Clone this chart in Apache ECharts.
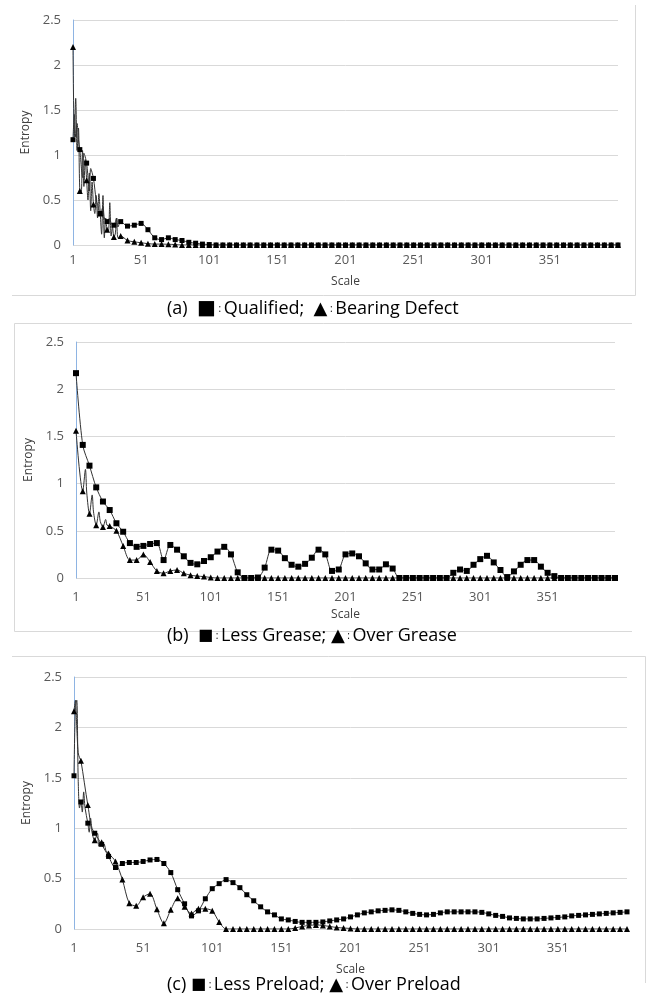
<!DOCTYPE html>
<html>
<head>
<meta charset="utf-8">
<script src="https://cdn.jsdelivr.net/npm/echarts@6/dist/echarts.min.js"></script>
<style>
  html, body { margin: 0; padding: 0; background: #fff; }
  #chart { width: 646px; height: 1008px; }
</style>
</head>
<body>
<div id="chart"></div>
<script>
"use strict";

// scales that carry a marker (every 5th scale)
var markScales = [];
for (var s = 1; s <= 401; s += 5) { markScales.push(s); }

var xTicks = [1, 51, 101, 151, 201, 251, 301, 351];

// (a) Qualified (squares) / Bearing Defect (triangles)
var qualified = [1.17, 1.06, 0.91, 0.74, 0.35, 0.26, 0.22, 0.26, 0.21, 0.22,
  0.24, 0.17, 0.08, 0.06, 0.08, 0.06, 0.05, 0.03, 0.02, 0.01,
  0.005, 0, 0, 0, 0, 0, 0, 0, 0, 0,
  0, 0, 0, 0, 0, 0, 0, 0, 0, 0,
  0, 0, 0, 0, 0, 0, 0, 0, 0, 0,
  0, 0, 0, 0, 0, 0, 0, 0, 0, 0,
  0, 0, 0, 0, 0, 0, 0, 0, 0, 0,
  0, 0, 0, 0, 0, 0, 0, 0, 0, 0, 0];
var qualifiedExtra = [[2, 1.45], [3, 1.2], [4, 1.35], [5, 1.17], [8, 0.75], [9, 1.02],
  [13, 0.6], [14, 0.85], [18, 0.5], [19, 0.45], [23, 0.42], [24, 0.3],
  [28, 0.3], [29, 0.24], [33, 0.3], [34, 0.2]];

var bearingDefect = [2.2, 0.6, 0.72, 0.45, 0.35, 0.17, 0.09, 0.1, 0.05, 0.035,
  0.025, 0.015, 0.01, 0.01, 0.008, 0.005, 0, 0, 0, 0,
  0, 0, 0, 0, 0, 0, 0, 0, 0, 0,
  0, 0, 0, 0, 0, 0, 0, 0, 0, 0,
  0, 0, 0, 0, 0, 0, 0, 0, 0, 0,
  0, 0, 0, 0, 0, 0, 0, 0, 0, 0,
  0, 0, 0, 0, 0, 0, 0, 0, 0, 0,
  0, 0, 0, 0, 0, 0, 0, 0, 0, 0, 0];
var bearingDefectExtra = [[2, 1.2], [3, 1.63], [4, 1.05], [5, 1.3], [7, 0.57], [8, 1.05],
  [9, 0.65], [10, 0.95], [12, 0.5], [13, 0.8], [14, 0.38], [15, 0.7],
  [17, 0.35], [18, 0.55], [19, 0.3], [20, 0.57], [22, 0.12], [23, 0.55],
  [24, 0.08], [25, 0.3], [27, 0.15], [28, 0.47], [29, 0.1], [30, 0.2],
  [32, 0.12], [33, 0.3], [34, 0.08]];

// (b) Less Grease (squares) / Over Grease (triangles)
var lessGrease = [2.17, 1.41, 1.19, 0.96, 0.81, 0.72, 0.58, 0.49, 0.37, 0.33,
  0.34, 0.36, 0.37, 0.19, 0.35, 0.30, 0.23, 0.16, 0.145, 0.18,
  0.22, 0.28, 0.33, 0.25, 0.06, 0, 0, 0.005, 0.11, 0.30,
  0.29, 0.21, 0.14, 0.12, 0.15, 0.215, 0.30, 0.25, 0.075, 0.09,
  0.25, 0.26, 0.23, 0.155, 0.09, 0.09, 0.145, 0.10, 0, 0,
  0, 0, 0, 0, 0, 0, 0.055, 0.09, 0.075, 0.14,
  0.20, 0.235, 0.165, 0.085, 0.01, 0.07, 0.14, 0.19, 0.19, 0.12,
  0.055, 0.02, 0, 0, 0, 0, 0, 0, 0, 0, 0];
var lessGreaseExtra = [];

var overGrease = [1.56, 0.92, 0.68, 0.56, 0.54, 0.55, 0.50, 0.34, 0.19, 0.19,
  0.25, 0.17, 0.074, 0.05, 0.075, 0.085, 0.05, 0.03, 0.02, 0.015,
  0.005, 0, 0, 0, 0, 0, 0, 0, 0, 0,
  0, 0, 0, 0, 0, 0, 0, 0, 0, 0,
  0, 0, 0, 0, 0, 0, 0, 0, 0, 0,
  0, 0, 0, 0, 0, 0, 0, 0, 0, 0,
  0, 0, 0, 0, 0, 0, 0, 0, 0, 0,
  0, 0, 0, 0, 0, 0, 0, 0, 0, 0, 0];
var overGreaseExtra = [[8, 1.15], [9, 0.9], [13, 0.88], [14, 0.7], [18, 0.7], [19, 0.6],
  [23, 0.62], [24, 0.56]];

// (c) Less Preload (squares) / Over Preload (triangles)
var lessPreload = [1.52, 1.26, 1.05, 0.95, 0.84, 0.72, 0.61, 0.65, 0.66, 0.66,
  0.67, 0.685, 0.69, 0.65, 0.56, 0.39, 0.25, 0.13, 0.18, 0.30,
  0.40, 0.45, 0.49, 0.46, 0.41, 0.34, 0.28, 0.22, 0.17, 0.14,
  0.10, 0.09, 0.075, 0.066, 0.066, 0.066, 0.07, 0.08, 0.09, 0.10,
  0.12, 0.14, 0.16, 0.17, 0.18, 0.185, 0.19, 0.185, 0.17, 0.155,
  0.145, 0.14, 0.145, 0.16, 0.17, 0.17, 0.17, 0.17, 0.17, 0.165,
  0.15, 0.135, 0.125, 0.11, 0.105, 0.10, 0.10, 0.10, 0.105, 0.11,
  0.115, 0.12, 0.13, 0.135, 0.14, 0.145, 0.15, 0.155, 0.16, 0.165, 0.17];
var lessPreloadExtra = [[2, 2.2], [3, 2.27], [4, 1.5], [5, 1.2], [7, 1.16], [8, 1.36],
  [9, 1.2], [12, 0.96], [13, 1.1], [14, 1.0]];

var overPreload = [2.16, 1.67, 1.23, 0.88, 0.86, 0.75, 0.67, 0.49, 0.255, 0.23,
  0.315, 0.35, 0.195, 0.056, 0.19, 0.305, 0.22, 0.155, 0.2, 0.2,
  0.18, 0.07, 0, 0, 0, 0, 0, 0, 0, 0,
  0, 0, 0.01, 0.025, 0.035, 0.04, 0.035, 0.025, 0.015, 0.01,
  0.005, 0, 0, 0, 0, 0, 0, 0, 0, 0,
  0, 0, 0, 0, 0, 0, 0, 0, 0, 0,
  0, 0, 0, 0, 0, 0, 0, 0, 0, 0,
  0, 0, 0, 0, 0, 0, 0, 0, 0, 0, 0];
var overPreloadExtra = [[2, 2.27], [3, 2.0], [4, 1.75], [5, 1.7], [18, 0.95], [19, 0.82],
  [23, 0.84], [24, 0.78]];

function build(vals, extra) {
  var pts = vals.map(function (v, i) { return [markScales[i], v]; });
  extra.forEach(function (p) { pts.push(p); });
  pts.sort(function (a, b) { return a[0] - b[0]; });
  return pts;
}

function markSize(size) {
  return function (val) { return (val[0] - 1) % 5 === 0 ? size : 0; };
}

var grids = [
  { left: 73, top: 20, width: 545, height: 225 },
  { left: 76, top: 342, width: 539, height: 236 },
  { left: 74, top: 677, width: 553, height: 252 }
];
var xNameGaps = [31, 31, 35];
var xLabelMargins = [9, 13, 13];

var xAxes = grids.map(function (g, i) {
  return {
    gridIndex: i,
    type: 'value',
    min: 1,
    max: 401,
    name: 'Scale',
    nameLocation: 'middle',
    nameGap: xNameGaps[i],
    nameTextStyle: { color: '#404040', fontSize: 12 },
    axisLine: { show: false },
    axisTick: { show: false },
    splitLine: { show: false },
    axisLabel: { customValues: xTicks, color: '#595959', fontSize: 13, margin: xLabelMargins[i] }
  };
});

var yAxes = grids.map(function (g, i) {
  return {
    gridIndex: i,
    type: 'value',
    min: 0,
    max: 2.5,
    interval: 0.5,
    name: 'Entropy',
    nameLocation: 'middle',
    nameGap: 40,
    nameTextStyle: { color: '#404040', fontSize: 12 },
    axisLine: { show: true, lineStyle: { color: '#8EB4E3', width: 1 } },
    axisTick: { show: false },
    splitLine: { show: true, lineStyle: { color: '#d9d9d9', width: 1 } },
    axisLabel: { color: '#595959', fontSize: 13, margin: 12 }
  };
});

function lineSeries(name, idx, symbol, size, data) {
  return {
    name: name,
    type: 'line',
    xAxisIndex: idx,
    yAxisIndex: idx,
    symbol: symbol,
    symbolSize: markSize(size),
    showSymbol: true,
    smooth: 0.3,
    lineStyle: { color: '#333', width: 1 },
    itemStyle: { color: '#000' },
    data: data
  };
}

var series = [
  lineSeries('Bearing Defect', 0, 'triangle', 6, build(bearingDefect, bearingDefectExtra)),
  lineSeries('Qualified', 0, 'rect', 5, build(qualified, qualifiedExtra)),
  lineSeries('Over Grease', 1, 'triangle', 6, build(overGrease, overGreaseExtra)),
  lineSeries('Less Grease', 1, 'rect', 6, build(lessGrease, lessGreaseExtra)),
  lineSeries('Over Preload', 2, 'triangle', 6, build(overPreload, overPreloadExtra)),
  lineSeries('Less Preload', 2, 'rect', 5, build(lessPreload, lessPreloadExtra))
];

var capRich = {
  t: { fontSize: 18, fontFamily: 'Open Sans', color: '#000' },
  q: { fontSize: 20, fontFamily: 'DejaVu Sans', color: '#000' },
  p: { fontSize: 16, fontFamily: 'DejaVu Sans', color: '#000' },
  s: { fontSize: 18, fontFamily: 'DejaVu Sans', color: '#000' },
  c: { fontSize: 10, fontFamily: 'Open Sans', color: '#000' }
};

function caption(text, top) {
  return {
    type: 'text',
    left: 167,
    top: top,
    style: { text: text, rich: capRich, fontSize: 18, fontFamily: 'Open Sans', fill: '#000' }
  };
}

var boxStyle = { stroke: '#d9d9d9', lineWidth: 1, fill: null };

var chart = echarts.init(document.getElementById('chart'), null, { renderer: 'canvas' });
chart.setOption({
  animation: false,
  backgroundColor: '#fff',
  textStyle: { fontFamily: 'Open Sans' },
  grid: grids,
  xAxis: xAxes,
  yAxis: yAxes,
  series: series,
  graphic: [
    { type: 'polyline', shape: { points: [[12, 295.5], [635.5, 295.5], [635.5, 5]] }, style: boxStyle },
    { type: 'polyline', shape: { points: [[632, 323.5], [14.5, 323.5], [14.5, 631.5], [632, 631.5]] }, style: boxStyle },
    { type: 'polyline', shape: { points: [[12, 656.5], [645.5, 656.5], [645.5, 983]] }, style: boxStyle },
    caption('{t|(a)}  {q|■}{c| : }{t|Qualified;}  {s|▲}{c| : }{t|Bearing Defect}', 299),
    caption('{t|(b)}  {p|■}{c| : }{t|Less Grease;} {s|▲}{c| : }{t|Over Grease}', 627),
    caption('{t|(c)} {p|■}{c| : }{t|Less Preload;} {s|▲}{c| : }{t|Over Preload}', 976)
  ]
});
</script>
</body>
</html>
